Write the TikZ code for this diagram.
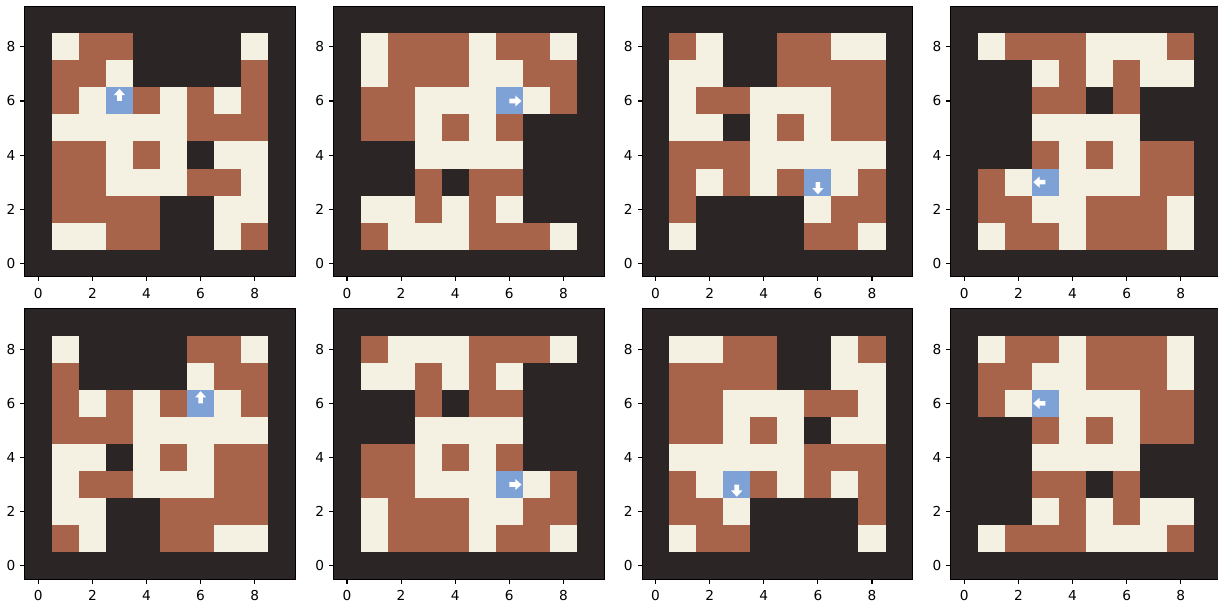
\documentclass[tikz,border=0pt]{standalone}
\usepackage{fontspec}
\setmainfont{DejaVu Sans}
\definecolor{cD}{HTML}{2B2526}
\definecolor{cB}{HTML}{A8644A}
\definecolor{cC}{HTML}{F4F0E2}
\definecolor{cA}{HTML}{7EA2D6}
\tikzset{
  tickmark/.style={line width=1.1pt, draw=black},
  ticklab/.style={inner sep=0pt, text=black, font=\fontsize{13.7}{16}\selectfont},
  spine/.style={draw=black, line width=0.8pt},
  agentarrow/.style={fill=white},
}
% #1 name, #2 x origin, #3 y origin, #4 rows, #5 agent x, #6 agent y, #7 angle
\newcommand\gridpanel[7]{%
\begin{scope}[shift={(#2pt,#3pt)},x=27.05pt,y=27.05pt]
  \fill[cD] (-0.5,-0.5) rectangle (9.5,9.5);
  \foreach \row [count=\j] in {#4} {
    \foreach \c [count=\i] in \row {
      \fill[c\c] ({\i-0.5},{8.5-\j}) rectangle ++(1.004,1.004);
    }
  }
  \fill[agentarrow, shift={(#5,#6)}, rotate=#7]
    (-0.085,0) -- (-0.085,0.22) -- (-0.205,0.22) -- (0,0.45) -- (0.205,0.22) -- (0.085,0.22) -- (0.085,0) -- cycle;
  \draw[spine] (-0.5,-0.5) rectangle (9.5,9.5);
  \foreach \k in {0,2,4,6,8} {
    \draw[tickmark] (\k,-0.5) -- ++(0,-4.3pt);
    \draw[tickmark] (-0.5,\k) -- ++(-4.3pt,0);
    \node[ticklab, anchor=north] (#1x\k) at (\k,-0.9067) {\k};
    \node[ticklab, anchor=east] (#1y\k) at (-0.8438,\k) {\k};
  }
\end{scope}}
\begin{document}
\begin{tikzpicture}[x=1pt,y=1pt]
\clip (0,0) rectangle (1218,607);
\fill[white] (0,0) rectangle (1218,607);
\gridpanel{pa}{38.3}{343.7}{
{C,B,B,D,D,D,D,C},
{B,B,C,D,D,D,D,B},
{B,C,A,B,C,B,C,B},
{C,C,C,C,C,B,B,B},
{B,B,C,B,C,D,C,C},
{B,B,C,C,C,B,B,C},
{B,B,B,B,D,D,C,C},
{C,C,B,B,D,D,C,B}}{3}{6}{0}
\gridpanel{pb}{347.0}{343.7}{
{C,B,B,B,C,B,B,C},
{C,B,B,B,C,C,B,B},
{B,B,C,C,C,A,C,B},
{B,B,C,B,C,B,D,D},
{D,D,C,C,C,C,D,D},
{D,D,B,D,B,B,D,D},
{C,C,B,C,B,C,D,D},
{B,C,C,C,B,B,B,C}}{6}{6}{-90}
\gridpanel{pc}{655.6}{343.7}{
{B,C,D,D,B,B,C,C},
{C,C,D,D,B,B,B,B},
{C,B,B,C,C,C,B,B},
{C,C,D,C,B,C,B,B},
{B,B,B,C,C,C,C,C},
{B,C,B,C,B,A,C,B},
{B,D,D,D,D,C,B,B},
{C,D,D,D,D,B,B,C}}{6}{3}{180}
\gridpanel{pd}{964.3}{343.7}{
{C,B,B,B,C,C,C,B},
{D,D,C,B,C,B,C,C},
{D,D,B,B,D,B,D,D},
{D,D,C,C,C,C,D,D},
{D,D,B,C,B,C,B,B},
{B,C,A,C,C,C,B,B},
{B,B,C,C,B,B,B,C},
{C,B,B,C,B,B,B,C}}{3}{3}{90}
\gridpanel{pe}{38.3}{41.3}{
{C,D,D,D,D,B,B,C},
{B,D,D,D,D,C,B,B},
{B,C,B,C,B,A,C,B},
{B,B,B,C,C,C,C,C},
{C,C,D,C,B,C,B,B},
{C,B,B,C,C,C,B,B},
{C,C,D,D,B,B,B,B},
{B,C,D,D,B,B,C,C}}{6}{6}{0}
\gridpanel{pf}{347.0}{41.3}{
{B,C,C,C,B,B,B,C},
{C,C,B,C,B,C,D,D},
{D,D,B,D,B,B,D,D},
{D,D,C,C,C,C,D,D},
{B,B,C,B,C,B,D,D},
{B,B,C,C,C,A,C,B},
{C,B,B,B,C,C,B,B},
{C,B,B,B,C,B,B,C}}{6}{3}{-90}
\gridpanel{pg}{655.6}{41.3}{
{C,C,B,B,D,D,C,B},
{B,B,B,B,D,D,C,C},
{B,B,C,C,C,B,B,C},
{B,B,C,B,C,D,C,C},
{C,C,C,C,C,B,B,B},
{B,C,A,B,C,B,C,B},
{B,B,C,D,D,D,D,B},
{C,B,B,D,D,D,D,C}}{3}{3}{180}
\gridpanel{ph}{964.3}{41.3}{
{C,B,B,C,B,B,B,C},
{B,B,C,C,B,B,B,C},
{B,C,A,C,C,C,B,B},
{D,D,B,C,B,C,B,B},
{D,D,C,C,C,C,D,D},
{D,D,B,B,D,B,D,D},
{D,D,C,B,C,B,C,C},
{C,B,B,B,C,C,C,B}}{3}{6}{90}
\end{tikzpicture}
\end{document}
